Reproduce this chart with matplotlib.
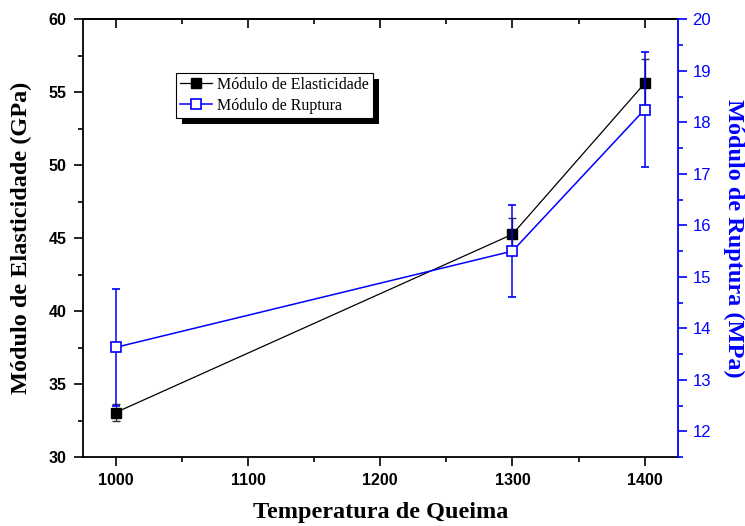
import matplotlib
matplotlib.use('agg')
import matplotlib.pyplot as plt
from matplotlib.lines import Line2D
from matplotlib.patches import Rectangle
from matplotlib.ticker import MultipleLocator

temperatura = [1000, 1300, 1400]
elasticidade = [33.05, 45.27, 55.62]
erro_elasticidade = [0.57, 1.15, 1.65]
ruptura = [13.63, 15.50, 18.25]
erro_ruptura = [1.14, 0.89, 1.11]

serif = 'Liberation Serif'
sans = 'Liberation Sans'

fig = plt.figure(figsize=(7.45, 5.26), dpi=100)
ax = fig.add_axes([0.111, 0.1312, 0.7987, 0.8318])
ax2 = ax.twinx()

ax.errorbar(temperatura, elasticidade, yerr=erro_elasticidade, color='black',
            lw=0.9, marker='s', ms=6.5, mfc='black', mec='black',
            ecolor='#333333', elinewidth=1.0, capsize=3.2, capthick=1.0)
ax2.errorbar(temperatura, ruptura, yerr=erro_ruptura, color='blue',
             lw=1.1, marker='s', ms=6.5, mfc='white', mec='blue', mew=1.2,
             ecolor='blue', elinewidth=1.1, capsize=3.2, capthick=1.1)

ax.set_xlim(975, 1425)
ax.set_ylim(30, 60)
ax2.set_ylim(11.5, 20)

ax.xaxis.set_major_locator(MultipleLocator(100))
ax.xaxis.set_minor_locator(MultipleLocator(50))
ax.yaxis.set_major_locator(MultipleLocator(5))
ax.yaxis.set_minor_locator(MultipleLocator(2.5))
ax2.yaxis.set_major_locator(MultipleLocator(1))
ax2.yaxis.set_minor_locator(MultipleLocator(0.5))

for s in ax.spines.values():
    s.set_linewidth(1.3)
ax.spines['right'].set_visible(False)
ax2.spines['right'].set_color('blue')
ax2.spines['right'].set_linewidth(1.3)
for k in ['left', 'top', 'bottom']:
    ax2.spines[k].set_visible(False)

ax.tick_params(axis='both', which='major', direction='out', length=6.5, width=1.2, pad=5)
ax.tick_params(axis='both', which='minor', direction='out', length=3.3, width=1.2)
ax2.tick_params(axis='y', which='major', direction='out', length=6.5, width=1.2,
                colors='blue', pad=4, labelsize=12)
ax2.tick_params(axis='y', which='minor', direction='out', length=3.3, width=1.2, colors='blue')

top = ax.secondary_xaxis('top')
top.xaxis.set_major_locator(MultipleLocator(100))
top.xaxis.set_minor_locator(MultipleLocator(50))
top.tick_params(which='major', direction='in', length=6.5, width=1.2, labeltop=False)
top.tick_params(which='minor', direction='in', length=3.3, width=1.2)
top.spines['top'].set_linewidth(1.3)

for lab in ax.get_xticklabels() + ax.get_yticklabels():
    lab.set_fontfamily(sans)
    lab.set_fontweight('bold')
    lab.set_fontsize(11.5)
for lab in ax2.get_yticklabels():
    lab.set_fontfamily(sans)

ax.set_xlabel('Temperatura de Queima', fontfamily=serif, fontweight='bold', fontsize=17.5)
ax.set_ylabel('Módulo de Elasticidade (GPa)', fontfamily=serif, fontweight='bold', fontsize=17.5)
ax2.set_ylabel('Módulo de Ruptura (MPa)', fontfamily=serif, fontweight='bold', fontsize=17.5,
               color='blue', rotation=270, va='bottom')
ax.xaxis.set_label_coords(0.5, -0.102)
ax.yaxis.set_label_coords(-0.085, 0.5)
ax2.yaxis.set_label_coords(1.076, 0.5)

handles = [
    Line2D([], [], color='black', lw=0.9, marker='s', ms=6.5, mfc='black', mec='black'),
    Line2D([], [], color='blue', lw=1.1, marker='s', ms=6.5, mfc='white', mec='blue', mew=1.2),
]
leg = ax2.legend(handles, ['Módulo de Elasticidade', 'Módulo de Ruptura'],
                 loc='upper left', bbox_to_anchor=(0.157, 0.878),
                 prop={'family': serif, 'size': 11.5}, frameon=True, fancybox=False,
                 framealpha=1, edgecolor='black', borderpad=0.25, labelspacing=0.3,
                 handlelength=2.0, handletextpad=0.3, borderaxespad=0)
leg.get_frame().set_linewidth(0.8)

fig.canvas.draw()
bb = leg.get_window_extent()
inv = ax2.transAxes.inverted()
(x0, y0) = inv.transform((bb.x0 + 6, bb.y0 - 6))
(x1, y1) = inv.transform((bb.x1 + 6, bb.y1 - 6))
ax2.add_patch(Rectangle((x0, y0), x1 - x0, y1 - y0, transform=ax2.transAxes,
                        facecolor='black', edgecolor='none', zorder=4.9))

fig.savefig('out.png', dpi=100)
